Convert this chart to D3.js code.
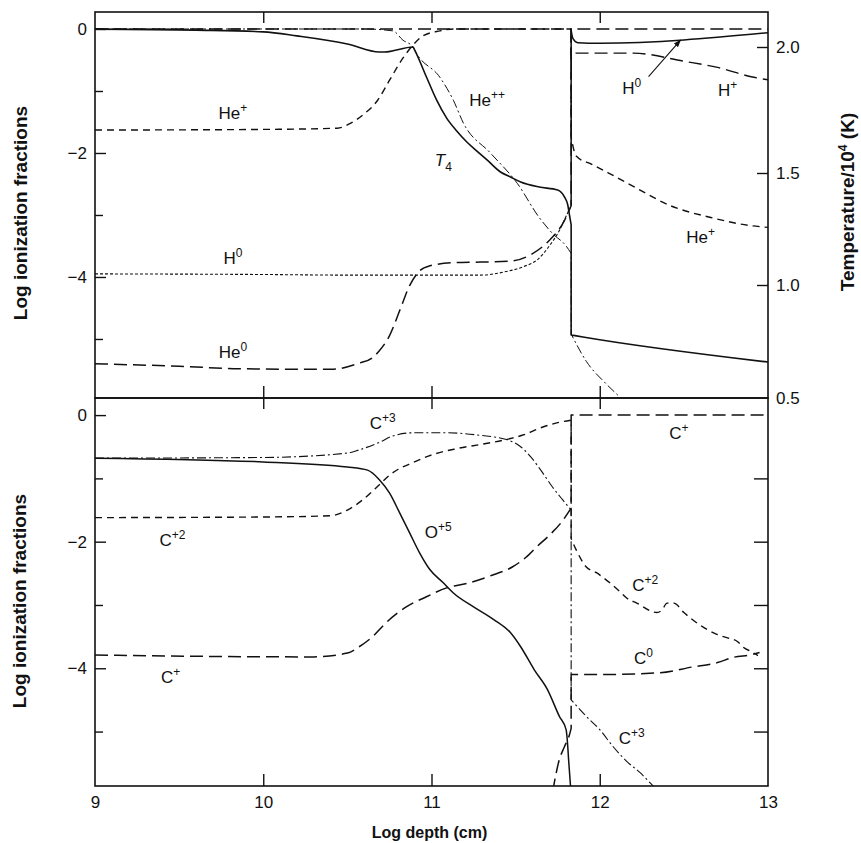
<!DOCTYPE html>
<html>
<head>
<meta charset="utf-8">
<script src="https://cdn.jsdelivr.net/npm/d3@7"></script>
<style>
  html, body { margin: 0; padding: 0; background: #fff; }
  svg { display: block; }
  text { font-family: "Liberation Sans", Arial, Helvetica, sans-serif; fill: #111; }
</style>
</head>
<body>
<svg id="chart" width="861" height="843"></svg>
<script>
// ---------------- DATA ----------------
// x = log depth (cm); top panel: log ionization fraction of H and He, plus T/1e4 K (right axis)
const depthTicks = [9, 10, 11, 12, 13];
const fracTicks = [0, -1, -2, -3, -4, -5];
const fracTickLabels = [0, -2, -4];
const tempTicks = [0.5, 1.0, 1.5, 2.0];

const hPlus = [[9,0],[11.83,0],[11.83,-0.48],[11.86,-0.39],[12.2,-0.39],[12.5,-0.52],[12.7,-0.62],[12.9,-0.77],[13,-0.82]];
const hZeroIonized = [[9,-3.95],[10,-3.96],[10.5,-3.97],[11.0,-3.97],[11.29,-3.97],[11.43,-3.92],[11.55,-3.83],[11.63,-3.72],[11.70,-3.50],[11.76,-3.25],[11.80,-3.02],[11.83,-2.85]];
const hZeroNeutral = [[11.83,-2.85],[11.83,-0.02],[11.84,-0.15],[11.87,-0.22],[12.0,-0.23],[13,-0.06]];
const heZero = [[9,-5.40],[9.5,-5.44],[9.86,-5.48],[10.4,-5.49],[10.57,-5.39],[10.65,-5.30],[10.69,-5.19],[10.75,-4.95],[10.81,-4.55],[10.87,-4.14],[10.93,-3.90],[10.99,-3.82],[11.13,-3.77],[11.29,-3.76],[11.48,-3.74],[11.59,-3.64],[11.70,-3.41],[11.79,-3.09],[11.83,-2.85],[11.83,0],[13,0]];
const heOne = [[9,-1.63],[10,-1.62],[10.44,-1.60],[10.52,-1.52],[10.59,-1.39],[10.68,-1.15],[10.75,-0.83],[10.83,-0.47],[10.89,-0.26],[10.95,-0.11],[11.05,-0.03],[11.13,0],[11.83,0],[11.83,-1.75],[11.86,-2.05],[11.95,-2.18],[12.05,-2.32],[12.22,-2.57],[12.42,-2.85],[12.66,-3.04],[12.89,-3.17],[13,-3.20]];
const heTwo = [[9,0],[10.6,0],[10.77,-0.03],[10.83,-0.18],[10.89,-0.29],[10.91,-0.39],[11.05,-0.78],[11.13,-1.15],[11.19,-1.52],[11.35,-2.0],[11.51,-2.49],[11.64,-3.04],[11.72,-3.30],[11.80,-3.50],[11.83,-3.62],[11.83,-4.92],[11.92,-5.36],[12.04,-5.73],[12.13,-5.97],[12.2,-6.2]];
const tempT4 = [[9,2.071],[9.6,2.067],[10.0,2.060],[10.2,2.044],[10.5,2.012],[10.69,1.980],[10.72,1.980],[10.89,2.0],[10.90,1.988],[10.97,1.881],[11.03,1.790],[11.09,1.718],[11.15,1.667],[11.21,1.623],[11.27,1.587],[11.33,1.552],[11.41,1.504],[11.47,1.482],[11.53,1.460],[11.64,1.4375],[11.75,1.424],[11.79,1.393],[11.81,1.357],[11.82,1.3125],[11.83,1.268],[11.83,0.779],[11.9,0.770],[13,0.659]];

// bottom panel: log ionization fractions of carbon and O+5
const oFive = [[9,-0.68],[10.0,-0.74],[10.5,-0.82],[10.62,-0.87],[10.69,-1.02],[10.75,-1.23],[10.81,-1.54],[10.87,-1.86],[10.93,-2.18],[10.99,-2.44],[11.07,-2.65],[11.13,-2.81],[11.25,-3.03],[11.37,-3.23],[11.47,-3.44],[11.53,-3.66],[11.61,-4.02],[11.69,-4.34],[11.76,-4.76],[11.80,-4.97],[11.81,-5.24],[11.815,-5.45],[11.83,-6.0]];
const cThree = [[9,-0.68],[10.0,-0.67],[10.5,-0.60],[10.57,-0.55],[10.69,-0.43],[10.77,-0.33],[10.89,-0.28],[11.09,-0.28],[11.29,-0.32],[11.45,-0.39],[11.53,-0.50],[11.59,-0.66],[11.66,-0.91],[11.72,-1.14],[11.78,-1.34],[11.83,-1.50],[11.83,-4.5],[11.92,-4.76],[12.0,-4.97],[12.08,-5.24],[12.16,-5.47],[12.24,-5.65],[12.31,-5.84],[12.35,-5.95]];
const cTwo = [[9,-1.62],[10.0,-1.61],[10.4,-1.59],[10.5,-1.50],[10.6,-1.32],[10.69,-1.10],[10.75,-0.95],[10.8,-0.86],[10.89,-0.75],[11.0,-0.63],[11.15,-0.53],[11.3,-0.46],[11.47,-0.37],[11.55,-0.31],[11.65,-0.20],[11.75,-0.12],[11.83,-0.08],[11.83,-1.95],[11.86,-2.13],[11.92,-2.40],[11.98,-2.49],[12.06,-2.65],[12.12,-2.79],[12.16,-2.89],[12.22,-2.97],[12.34,-3.12],[12.37,-3.08],[12.40,-2.97],[12.44,-2.97],[12.50,-3.12],[12.55,-3.23],[12.64,-3.39],[12.70,-3.47],[12.76,-3.52],[12.82,-3.58],[12.85,-3.66],[12.91,-3.75],[12.94,-3.80]];
const cOne = [[9,-3.79],[10.21,-3.82],[10.3,-3.82],[10.5,-3.76],[10.57,-3.66],[10.65,-3.50],[10.73,-3.28],[10.85,-3.03],[10.97,-2.87],[11.09,-2.73],[11.21,-2.66],[11.36,-2.53],[11.48,-2.40],[11.56,-2.25],[11.63,-2.07],[11.70,-1.90],[11.77,-1.70],[11.83,-1.47],[11.83,0],[13,0]];
const cZero = [[11.72,-5.95],[11.76,-5.44],[11.79,-5.24],[11.82,-5.05],[11.83,-4.95],[11.83,-4.1],[12.0,-4.1],[12.36,-4.07],[12.55,-3.98],[12.70,-3.91],[12.79,-3.83],[12.91,-3.78],[12.95,-3.75]];

// curve labels: [base, superscript, x (log depth), y (value at label centre)]
const topLabels = [["He","+",9.82,-1.35],["H","0",9.82,-3.69],["He","0",9.82,-5.21],["He","++",11.33,-1.15],["H","0",12.19,-0.95],["H","+",12.76,-0.98],["He","+",12.6,-3.35]];
const bottomLabels = [["C","+3",10.71,-0.13],["O","+5",11.04,-1.85],["C","+2",9.46,-1.97],["C","+",9.45,-4.14],["C","+",12.47,-0.28],["C","+2",12.27,-2.69],["C","0",12.26,-3.84],["C","+3",12.19,-5.10]];
const tempLabel = ["T","4",11.07,-2.11];
const arrowFromTo = [[12.29,-0.77],[12.48,-0.18]];

// ---------------- LAYOUT ----------------
const svg = d3.select("#chart");
const L = 95, R = 768;
const topP = {y0: 12, y1: 398};
const botP = {y0: 398, y1: 786};

const x = d3.scaleLinear().domain([9, 13]).range([L, R]);
const yTop = d3.scaleLinear().domain([0.274, -5.952]).range([topP.y0, topP.y1]);
// the printed temperature axis is slightly non-uniform; follow its tick positions
const yTemp = d3.scaleLinear().domain([0.5, 1.0, 1.5, 2.0]).range([398, 285, 173, 47]);
const yBot = d3.scaleLinear().domain([0.27, -5.86]).range([botP.y0, botP.y1]);

const DASH = {solid: null, short: "7,5", long: "13,6", dashdot: "9,3,2,3", dotted: "3,2"};

const defs = svg.append("defs");
defs.append("clipPath").attr("id","clipTop").append("rect").attr("x",L).attr("y",topP.y0).attr("width",R-L).attr("height",topP.y1-topP.y0);
defs.append("clipPath").attr("id","clipBot").append("rect").attr("x",L).attr("y",botP.y0).attr("width",R-L).attr("height",botP.y1-botP.y0);
defs.append("marker").attr("id","arrow").attr("viewBox","0 0 10 10").attr("refX",9).attr("refY",5)
  .attr("markerWidth",7).attr("markerHeight",7).attr("orient","auto")
  .append("path").attr("d","M0,1.5 L10,5 L0,8.5 Z").attr("fill","#111");

// smooth each run with monotone interpolation; jumps at equal depth become vertical segments
function buildPath(data, yScale) {
  const runs = [];
  let cur = [data[0]];
  for (let i = 1; i < data.length; i++) {
    if (data[i][0] === data[i - 1][0]) { runs.push(cur); cur = [data[i]]; }
    else cur.push(data[i]);
  }
  runs.push(cur);
  const gen = d3.line().x(d => x(d[0])).y(d => yScale(d[1])).curve(d3.curveMonotoneX);
  return runs.map((r, i) => {
    let s = r.length > 1 ? gen(r) : `M${x(r[0][0])},${yScale(r[0][1])}`;
    if (i > 0) s = "L" + s.slice(1);
    return s;
  }).join("");
}

function drawSeries(g, data, yScale, dash, width) {
  g.append("path").attr("d", buildPath(data, yScale))
    .attr("fill","none").attr("stroke","#111").attr("stroke-width", width)
    .attr("stroke-dasharray", dash).attr("stroke-linejoin","round");
}

const gTop = svg.append("g").attr("clip-path","url(#clipTop)");
drawSeries(gTop, hPlus, yTop, DASH.long, 1.4);
drawSeries(gTop, heOne, yTop, DASH.short, 1.4);
drawSeries(gTop, heZero, yTop, DASH.long, 1.5);
drawSeries(gTop, heTwo, yTop, DASH.dashdot, 1.0);
drawSeries(gTop, hZeroIonized, yTop, DASH.dotted, 1.1);
drawSeries(gTop, hZeroNeutral, yTop, DASH.solid, 1.5);
drawSeries(gTop, tempT4, yTemp, DASH.solid, 1.6);

const gBot = svg.append("g").attr("clip-path","url(#clipBot)");
drawSeries(gBot, oFive, yBot, DASH.solid, 1.5);
drawSeries(gBot, cThree, yBot, DASH.dashdot, 1.1);
drawSeries(gBot, cTwo, yBot, DASH.short, 1.4);
drawSeries(gBot, cOne, yBot, DASH.long, 1.5);
drawSeries(gBot, cZero, yBot, DASH.long, 1.5);

// ---------------- AXES ----------------
function frame(p) {
  svg.append("rect").attr("x",L).attr("y",p.y0).attr("width",R-L).attr("height",p.y1-p.y0)
    .attr("fill","none").attr("stroke","#111").attr("stroke-width",1.6);
}
frame(topP); frame(botP);

// inner x ticks on both panels
const innerX = depthTicks.filter(d => d > 9 && d < 13);
[topP, botP].forEach(p => {
  svg.append("g").attr("transform",`translate(0,${p.y0})`)
    .call(d3.axisBottom(x).tickValues(innerX).tickSize(11).tickFormat(""))
    .call(g => g.select(".domain").remove());
  svg.append("g").attr("transform",`translate(0,${p.y1})`)
    .call(d3.axisTop(x).tickValues(innerX).tickSize(12).tickFormat(""))
    .call(g => g.select(".domain").remove());
});
svg.selectAll(".tick line").attr("stroke","#111").attr("stroke-width",1.4);

// bottom x labels
const xAxisB = svg.append("g").attr("transform",`translate(0,${botP.y1})`)
  .call(d3.axisBottom(x).tickValues(depthTicks).tickSize(0).tickPadding(10).tickFormat(d3.format("d")));
xAxisB.select(".domain").remove();
xAxisB.selectAll("text").attr("font-size",17).attr("fill","#111").attr("font-family","Liberation Sans, Arial, sans-serif");

// left y axes
function leftAxis(yScale) {
  const g = svg.append("g").attr("transform",`translate(${L},0)`)
    .call(d3.axisRight(yScale).tickValues(fracTicks).tickSize(8).tickFormat(""));
  g.select(".domain").remove();
  g.selectAll(".tick line").attr("stroke","#111").attr("stroke-width",1.4)
    .attr("x2", d => (d % 2 === 0 ? 11 : 8));
  const gl = svg.append("g").attr("transform",`translate(${L},0)`)
    .call(d3.axisLeft(yScale).tickValues(fracTickLabels).tickSize(0).tickPadding(8)
      .tickFormat(d => d === 0 ? "0" : "\u2212" + Math.abs(d)));
  gl.select(".domain").remove();
  gl.selectAll("text").attr("font-size",17).attr("fill","#111").attr("font-family","Liberation Sans, Arial, sans-serif");
}
leftAxis(yTop);
leftAxis(yBot);

// right temperature axis (top panel)
const gT = svg.append("g").attr("transform",`translate(${R},0)`)
  .call(d3.axisLeft(yTemp).tickValues(tempTicks.filter(t => t > 0.5)).tickSize(11).tickFormat(""));
gT.select(".domain").remove();
gT.selectAll(".tick line").attr("stroke","#111").attr("stroke-width",1.4);
const gTl = svg.append("g").attr("transform",`translate(${R},0)`)
  .call(d3.axisRight(yTemp).tickValues(tempTicks).tickSize(0).tickPadding(8).tickFormat(d3.format(".1f")));
gTl.select(".domain").remove();
gTl.selectAll("text").attr("font-size",17).attr("fill","#111").attr("font-family","Liberation Sans, Arial, sans-serif");

// right ticks bottom panel (unlabelled)
const gBR = svg.append("g").attr("transform",`translate(${R},0)`)
  .call(d3.axisLeft(yBot).tickValues(fracTicks.filter(d => d < 0)).tickSize(14).tickFormat(""));
gBR.select(".domain").remove();
gBR.selectAll(".tick line").attr("stroke","#111").attr("stroke-width",1.4);

// ---------------- TITLES ----------------
svg.append("text").attr("transform",`translate(27,213) rotate(-90)`)
  .attr("text-anchor","middle").attr("font-size",19).attr("font-weight","bold").text("Log ionization fractions");
svg.append("text").attr("transform",`translate(26,601) rotate(-90)`)
  .attr("text-anchor","middle").attr("font-size",19).attr("font-weight","bold").text("Log ionization fractions");
const rt = svg.append("text").attr("transform",`translate(854,202) rotate(-90)`)
  .attr("text-anchor","middle").attr("font-size",19).attr("font-weight","bold");
rt.append("tspan").text("Temperature/10");
rt.append("tspan").attr("font-size",12).attr("dy",-7).text("4");
rt.append("tspan").attr("dy",7).text(" (K)");
svg.append("text").attr("x",(L+R)/2 - 2).attr("y",838).attr("text-anchor","middle")
  .attr("font-size",16).attr("font-weight","bold").text("Log depth (cm)");

// ---------------- CURVE LABELS ----------------
function curveLabel(lbl, yScale) {
  const t = svg.append("text").attr("x", x(lbl[2])).attr("y", yScale(lbl[3]) + 6)
    .attr("text-anchor","middle").attr("font-size",17);
  t.append("tspan").text(lbl[0]);
  t.append("tspan").attr("font-size",12).attr("dy",-7).text(lbl[1]);
}
topLabels.forEach(l => curveLabel(l, yTop));
bottomLabels.forEach(l => curveLabel(l, yBot));
// T4 label (italic T, subscript 4)
const tl = svg.append("text").attr("x", x(tempLabel[2])).attr("y", yTop(tempLabel[3]) + 6)
  .attr("text-anchor","middle").attr("font-size",17);
tl.append("tspan").attr("font-style","italic").text(tempLabel[0]);
tl.append("tspan").attr("font-size",12).attr("dy",5).text(tempLabel[1]);

// arrow H0 label -> H0 curve
svg.append("line")
  .attr("x1", x(arrowFromTo[0][0])).attr("y1", yTop(arrowFromTo[0][1]))
  .attr("x2", x(arrowFromTo[1][0])).attr("y2", yTop(arrowFromTo[1][1]))
  .attr("stroke","#111").attr("stroke-width",1.1).attr("marker-end","url(#arrow)");
</script>
</body>
</html>
